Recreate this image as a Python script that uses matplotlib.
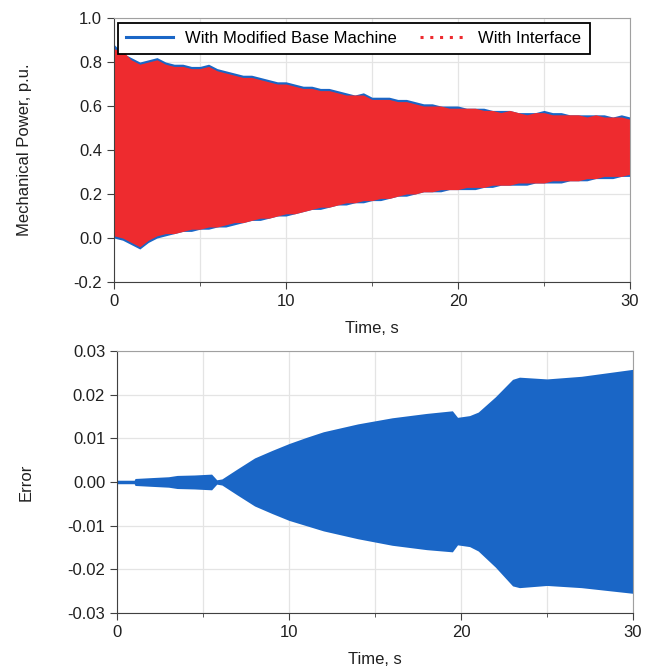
#!/usr/bin/env python3

# plot.py
# mechanical power of the two models and the error between them

import numpy as np
import matplotlib.pyplot as plt
from matplotlib.lines import Line2D
from matplotlib.ticker import MultipleLocator

plt.rcParams['font.family'] = ['Liberation Sans', 'DejaVu Sans']
plt.rcParams['axes.unicode_minus'] = False


# envelopes (the oscillation is too dense to resolve)

t_pow = [0.0, 0.5, 1.0, 1.5, 2.0, 2.5, 3.0, 3.5, 4.0, 4.5, 5.0, 5.5, 6.0, 6.5, 7.0, 7.5,
         8.0, 8.5, 9.0, 9.5, 10.0, 10.5, 11.0, 11.5, 12.0, 12.5, 13.0, 13.5, 14.0, 14.5,
         15.0, 15.5, 16.0, 16.5, 17.0, 17.5, 18.0, 18.5, 19.0, 19.5, 20.0, 20.5, 21.0,
         21.5, 22.0, 22.5, 23.0, 23.5, 24.0, 24.5, 25.0, 25.5, 26.0, 26.5, 27.0, 27.5,
         28.0, 28.5, 29.0, 29.5, 30.0]
base_upper = [0.88, 0.84, 0.82, 0.80, 0.81, 0.82, 0.80, 0.79, 0.79, 0.78, 0.78, 0.79, 0.77, 0.76, 0.75, 0.74,
              0.74, 0.73, 0.72, 0.71, 0.71, 0.70, 0.69, 0.69, 0.68, 0.68, 0.67, 0.66, 0.65, 0.66,
              0.64, 0.64, 0.64, 0.63, 0.63, 0.62, 0.61, 0.61, 0.60, 0.60, 0.60, 0.59, 0.59,
              0.59, 0.58, 0.58, 0.58, 0.57, 0.57, 0.57, 0.58, 0.57, 0.57, 0.56, 0.56, 0.56,
              0.56, 0.56, 0.55, 0.56, 0.55]
base_lower = [0.00, -0.01, -0.03, -0.05, -0.02, 0.00, 0.01, 0.02, 0.03, 0.03, 0.04, 0.04, 0.05, 0.05, 0.06, 0.07,
              0.08, 0.08, 0.09, 0.10, 0.10, 0.11, 0.12, 0.13, 0.13, 0.14, 0.15, 0.15, 0.16, 0.16,
              0.17, 0.17, 0.18, 0.19, 0.19, 0.20, 0.21, 0.21, 0.21, 0.22, 0.22, 0.22, 0.22,
              0.23, 0.23, 0.24, 0.24, 0.24, 0.24, 0.25, 0.25, 0.25, 0.25, 0.26, 0.26, 0.26,
              0.27, 0.27, 0.27, 0.28, 0.28]
intf_upper = [0.86, 0.85, 0.81, 0.79, 0.80, 0.81, 0.79, 0.78, 0.78, 0.77, 0.77, 0.78, 0.76, 0.75, 0.74, 0.73,
              0.73, 0.72, 0.71, 0.70, 0.70, 0.69, 0.68, 0.68, 0.67, 0.67, 0.66, 0.65, 0.65, 0.65,
              0.63, 0.63, 0.63, 0.62, 0.62, 0.61, 0.60, 0.60, 0.60, 0.59, 0.59, 0.59, 0.59,
              0.58, 0.58, 0.57, 0.58, 0.57, 0.56, 0.57, 0.57, 0.56, 0.56, 0.56, 0.56, 0.55,
              0.56, 0.55, 0.55, 0.55, 0.54]
intf_lower = [0.01, 0.00, -0.02, -0.04, -0.01, 0.01, 0.02, 0.02, 0.03, 0.04, 0.04, 0.05, 0.05, 0.06, 0.07, 0.07,
              0.08, 0.09, 0.09, 0.10, 0.11, 0.11, 0.12, 0.13, 0.14, 0.14, 0.15, 0.16, 0.16, 0.17,
              0.17, 0.18, 0.18, 0.19, 0.20, 0.20, 0.21, 0.21, 0.22, 0.22, 0.22, 0.23, 0.23,
              0.23, 0.24, 0.24, 0.24, 0.25, 0.25, 0.25, 0.25, 0.26, 0.26, 0.26, 0.26, 0.27,
              0.27, 0.28, 0.28, 0.28, 0.29]

t_err = [0.0, 1.0, 1.05, 2.0, 3.0, 3.5, 4.5, 5.5, 5.8, 6.1, 7.0, 8.0, 9.0, 10.0,
         11.0, 12.0, 14.0, 16.0, 18.0, 19.5, 19.8, 20.5, 21.0, 22.0, 23.0, 23.4,
         25.0, 27.0, 30.0]
err_upper = [0.0004, 0.0004, 0.0008, 0.0010, 0.0012, 0.0015, 0.0016, 0.0018, 0.0005, 0.0007, 0.0030, 0.0055, 0.0072, 0.0088,
             0.0102, 0.0115, 0.0133, 0.0147, 0.0157, 0.0163, 0.0148, 0.0152, 0.0160, 0.0195, 0.0235, 0.0240,
             0.0236, 0.0242, 0.0258]
err_lower = [-0.0004, -0.0004, -0.0008, -0.0010, -0.0012, -0.0015, -0.0016, -0.0018, -0.0005, -0.0007, -0.0030, -0.0055, -0.0072, -0.0088,
             -0.0100, -0.0112, -0.0130, -0.0145, -0.0155, -0.0160, -0.0144, -0.0148, -0.0158, -0.0195, -0.0238, -0.0242,
             -0.0237, -0.0242, -0.0255]


blue = '#1A66C6'
red = '#EE2B2F'
fs = 12

fig = plt.figure(figsize=(6.5, 6.67), dpi=100)
ax1 = fig.add_axes([0.1754, 0.5772, 0.7938, 0.3958])
ax2 = fig.add_axes([0.18, 0.081, 0.7938, 0.3928])


def StyleAxes(ax):
    ax.set_xlim(0, 30)
    ax.xaxis.set_major_locator(MultipleLocator(10))
    ax.xaxis.set_minor_locator(MultipleLocator(5))
    ax.grid(True, which='both', color='#e4e4e4', linewidth=0.9)
    ax.set_axisbelow(True)
    for side in ['left', 'bottom']:
        ax.spines[side].set_color('#404040')
    for side in ['top', 'right']:
        ax.spines[side].set_color('#a0a0a0')
    ax.tick_params(which='major', length=5, color='#404040', labelsize=fs, labelcolor='#202020')
    ax.tick_params(which='minor', length=3, color='#404040')
    ax.set_xlabel("Time, s", fontsize=fs, color='#202020', labelpad=9)


# Top: mechanical power

ax1.fill_between(t_pow, base_lower, base_upper, color=blue, linewidth=0)
ax1.fill_between(t_pow, intf_lower, intf_upper, color=red, linewidth=0)
StyleAxes(ax1)
ax1.set_ylim(-0.2, 1.0)
ax1.yaxis.set_major_locator(MultipleLocator(0.2))
ax1.yaxis.set_major_formatter(lambda v, p: f"{v:.1f}")
ax1.set_ylabel("Mechanical Power, p.u.", fontsize=fs, color='#202020', labelpad=30)

handles = [Line2D([], [], color=blue, linewidth=2.2),
           Line2D([], [], color=red, linewidth=2.2, linestyle=(0, (1, 2.2)))]
leg = ax1.legend(handles, ["With Modified Base Machine", "With Interface"], ncol=2,
                 loc='upper left', bbox_to_anchor=(0.008, 0.982), fontsize=fs,
                 fancybox=False, edgecolor='black', framealpha=1, borderpad=0.5,
                 handlelength=2.8, handletextpad=0.7, columnspacing=1.4, borderaxespad=0)
leg.get_frame().set_linewidth(1.3)


# Bottom: error

ax2.fill_between(t_err, err_lower, err_upper, color=blue, linewidth=0)
StyleAxes(ax2)
ax2.set_ylim(-0.03, 0.03)
ax2.yaxis.set_major_locator(MultipleLocator(0.01))
ax2.yaxis.set_major_formatter(lambda v, p: f"{v:.2f}")
ax2.set_ylabel("Error", fontsize=fs, color='#202020', labelpad=24)

fig.savefig("out.png", dpi=100)
